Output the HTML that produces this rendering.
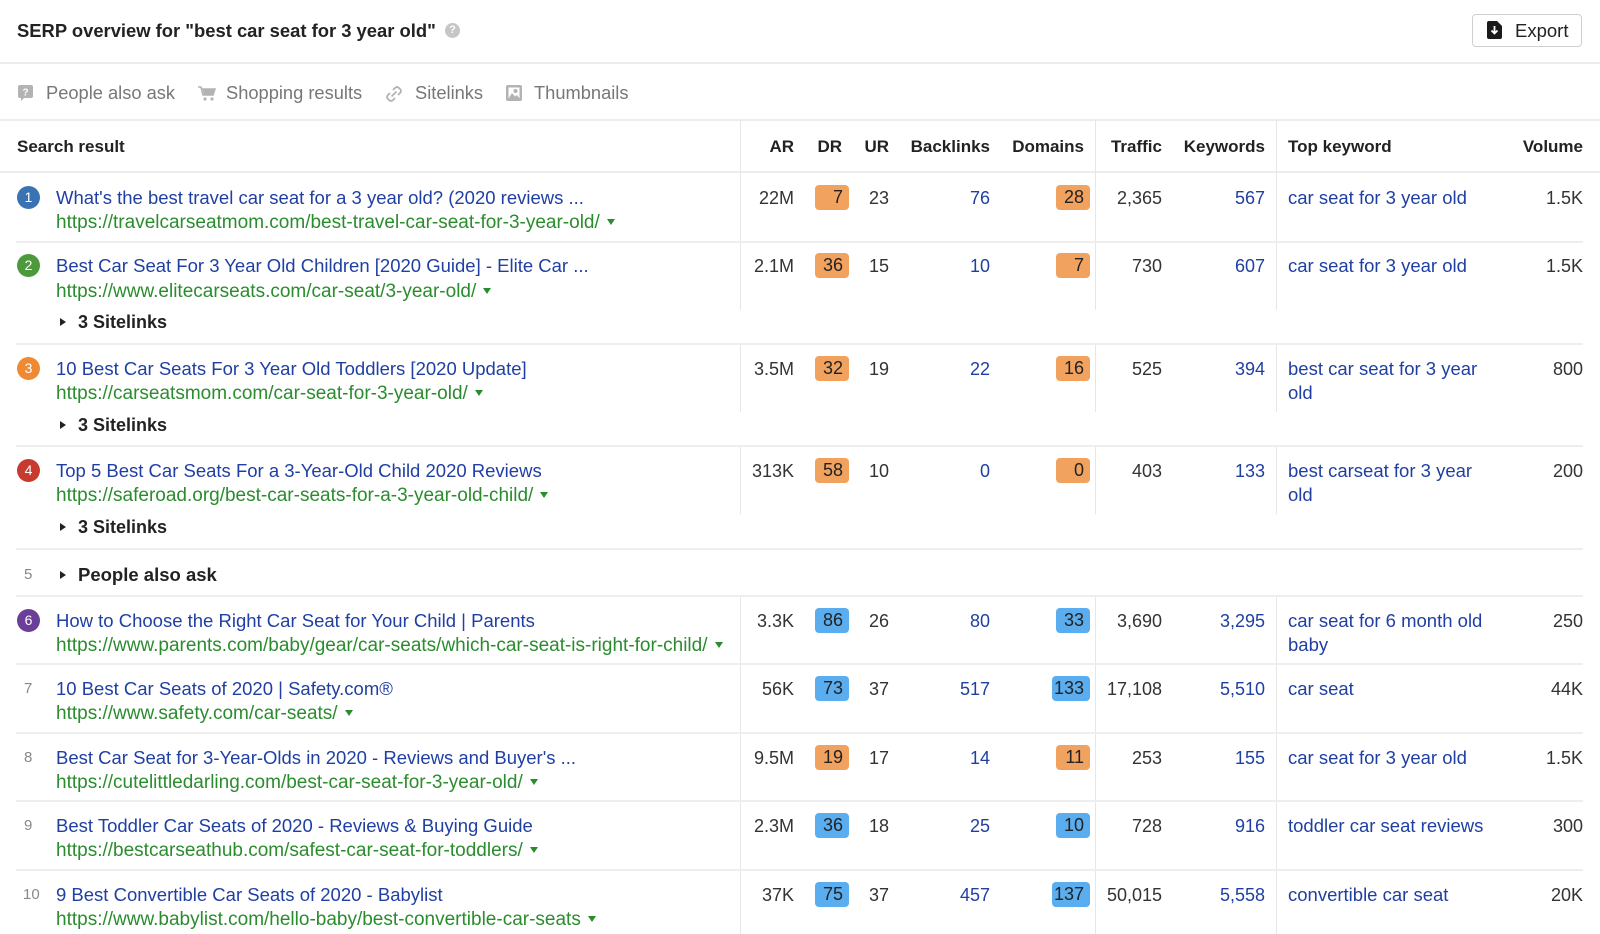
<!DOCTYPE html>
<html><head><meta charset="utf-8">
<style>
*{box-sizing:border-box;margin:0;padding:0}
body{width:1600px;height:934px;overflow:hidden;background:#fff;position:relative;font-family:"Liberation Sans",Arial,sans-serif;color:#222}
.a{position:absolute;white-space:nowrap;line-height:24px;margin-top:1px}
.hl{position:absolute;left:0;width:1600px;height:2px;background:#ececec}
.rs{position:absolute;left:16px;width:1567px;height:2px;background:#eeeeee}
.vl{position:absolute;width:1px;background:#e6e6e6}
.h{font-weight:bold;font-size:17px;color:#222}
.tt{font-size:18.5px;color:#1f3fa3;left:56px}
.url{font-size:19px;color:#2b8c2e;left:56px;margin-top:3px}
.url i{display:inline-block;width:0;height:0;border-left:4.5px solid transparent;border-right:4.5px solid transparent;border-top:6px solid #2b8c2e;vertical-align:middle;margin-left:7px;margin-top:-2px}
.n{font-size:18px;color:#333}
.lk{color:#1f3fa3}
.kw{font-size:18.5px;color:#1f3fa3;left:1288px;line-height:23.5px}
.bd{position:absolute;height:25px;min-width:34px;border-radius:4px;font-size:18px;line-height:25px;text-align:right;padding:0 6px 0 2px;color:#222;margin-top:1px}
.o{background:#f2a25f}
.b{background:#5aadee}
.c{position:absolute;width:23px;height:23px;border-radius:50%;color:#fff;font-size:14px;line-height:23px;text-align:center;left:17px;margin-top:0px}
.rn{position:absolute;font-size:15px;color:#888;line-height:20px;margin-top:1px}
.sl{font-size:18px;font-weight:bold;left:78px;color:#222}
.tri{position:absolute;left:60px;width:0;height:0;border-top:4.5px solid transparent;border-bottom:4.5px solid transparent;border-left:6px solid #222;margin-top:1px}
.f{font-size:18.3px;color:#777}
</style></head><body>

<!-- Top header -->
<div class="a" style="left:17px;top:18px;font-size:18.4px;font-weight:bold;color:#222">SERP overview for "best car seat for 3 year old"</div>
<div style="position:absolute;left:445px;top:23px;width:15px;height:15px;border-radius:50%;background:#c6c6c6;color:#fff;font-size:11px;font-weight:bold;line-height:15px;text-align:center">?</div>
<div style="position:absolute;left:1472px;top:14px;width:110px;height:33px;border:1px solid #cfcfcf;border-radius:4px;background:#fff"></div>
<svg style="position:absolute;left:1487px;top:21px" width="15" height="18" viewBox="0 0 15 18"><path d="M2 0H10L15 5V16Q15 18 13 18H2Q0 18 0 16V2Q0 0 2 0Z" fill="#1a1a1a"/><path d="M7.5 5V12M4.5 9.5L7.5 12.5L10.5 9.5" stroke="#fff" stroke-width="1.8" fill="none"/></svg>
<div class="a" style="left:1515px;top:18px;font-size:18.5px;color:#222">Export</div>
<div class="hl" style="top:62px"></div>

<!-- Filters -->
<svg style="position:absolute;left:18px;top:85px" width="15" height="16" viewBox="0 0 15 16"><path d="M2 0H13Q15 0 15 2V11Q15 13 13 13H6L3 16V13H2Q0 13 0 11V2Q0 0 2 0Z" fill="#b3b3b3"/><text x="7.5" y="10.5" font-size="10" font-weight="bold" fill="#fff" text-anchor="middle" font-family="Liberation Sans">?</text></svg>
<div class="a f" style="left:46px;top:80px">People also ask</div>
<svg style="position:absolute;left:198px;top:86px" width="18" height="15" viewBox="0 0 18 15"><path d="M0 1H3L5 9H15L17 3H4" stroke="#b3b3b3" stroke-width="1.6" fill="none"/><path d="M4.5 3H17L15 9H6Z" fill="#b3b3b3"/><circle cx="7" cy="13" r="1.6" fill="#b3b3b3"/><circle cx="14" cy="13" r="1.6" fill="#b3b3b3"/></svg>
<div class="a f" style="left:226px;top:80px">Shopping results</div>
<svg style="position:absolute;left:386px;top:86px" width="16" height="16" viewBox="0 0 16 16"><path d="M7 4L9 2Q11 0 13 2L14 3Q16 5 14 7L12 9" stroke="#b3b3b3" stroke-width="1.8" fill="none"/><path d="M9 12L7 14Q5 16 3 14L2 13Q0 11 2 9L4 7" stroke="#b3b3b3" stroke-width="1.8" fill="none"/><path d="M5.5 10.5L10.5 5.5" stroke="#b3b3b3" stroke-width="1.8"/></svg>
<div class="a f" style="left:415px;top:80px">Sitelinks</div>
<svg style="position:absolute;left:506px;top:85px" width="16" height="16" viewBox="0 0 16 16"><rect x="0" y="0" width="16" height="16" rx="2" fill="#b3b3b3"/><rect x="2.5" y="2.5" width="11" height="11" fill="#fff"/><circle cx="9.5" cy="6" r="2" fill="#b3b3b3"/><path d="M2.5 13.5L6 8L9 11.5L11 10L13.5 13.5Z" fill="#b3b3b3"/></svg>
<div class="a f" style="left:534px;top:80px">Thumbnails</div>
<div class="hl" style="top:119px"></div>

<!-- Table header -->
<div class="a h" style="left:17px;top:134px">Search result</div>
<div class="a h" style="right:806px;top:134px">AR</div>
<div class="a h" style="right:758px;top:134px">DR</div>
<div class="a h" style="right:711px;top:134px">UR</div>
<div class="a h" style="right:610px;top:134px">Backlinks</div>
<div class="a h" style="right:516px;top:134px">Domains</div>
<div class="a h" style="right:438px;top:134px">Traffic</div>
<div class="a h" style="right:335px;top:134px">Keywords</div>
<div class="a h" style="left:1288px;top:134px">Top keyword</div>
<div class="a h" style="right:17px;top:134px">Volume</div>
<div class="hl" style="top:171px"></div>

<!-- vertical dividers -->
<div class="vl" style="left:740px;top:120px;height:190px"></div>
<div class="vl" style="left:1095px;top:120px;height:190px"></div>
<div class="vl" style="left:1276px;top:120px;height:190px"></div>
<div class="vl" style="left:740px;top:344px;height:68px"></div>
<div class="vl" style="left:1095px;top:344px;height:68px"></div>
<div class="vl" style="left:1276px;top:344px;height:68px"></div>
<div class="vl" style="left:740px;top:446px;height:68px"></div>
<div class="vl" style="left:1095px;top:446px;height:68px"></div>
<div class="vl" style="left:1276px;top:446px;height:68px"></div>
<div class="vl" style="left:740px;top:596px;height:338px"></div>
<div class="vl" style="left:1095px;top:596px;height:338px"></div>
<div class="vl" style="left:1276px;top:596px;height:338px"></div>

<!-- row separators -->
<div class="rs" style="top:241px"></div>
<div class="rs" style="top:343px"></div>
<div class="rs" style="top:445px"></div>
<div class="rs" style="top:548px"></div>
<div class="rs" style="top:595px"></div>
<div class="rs" style="top:663px"></div>
<div class="rs" style="top:732px"></div>
<div class="rs" style="top:800px"></div>
<div class="rs" style="top:869px"></div>

<!-- Row 1 (center 197) -->
<div class="c" style="top:186px;background:#3a73b3">1</div>
<div class="a tt" style="top:185px">What's the best travel car seat for a 3 year old? (2020 reviews ...</div>
<div class="a url" style="top:208px">https://travelcarseatmom.com/best-travel-car-seat-for-3-year-old/<i></i></div>
<div class="a n" style="right:806px;top:185px">22M</div>
<div class="bd o" style="left:815px;top:184px">7</div>
<div class="a n" style="right:711px;top:185px">23</div>
<div class="a n lk" style="right:610px;top:185px">76</div>
<div class="bd o" style="right:510px;top:184px">28</div>
<div class="a n" style="right:438px;top:185px">2,365</div>
<div class="a n lk" style="right:335px;top:185px">567</div>
<div class="a kw" style="top:185px">car seat for 3 year old</div>
<div class="a n" style="right:17px;top:185px">1.5K</div>

<!-- Row 2 (center 265) -->
<div class="c" style="top:254px;background:#4c9a3c">2</div>
<div class="a tt" style="top:253px">Best Car Seat For 3 Year Old Children [2020 Guide] - Elite Car ...</div>
<div class="a url" style="top:277px">https://www.elitecarseats.com/car-seat/3-year-old/<i></i></div>
<div class="tri" style="top:317px"></div>
<div class="a sl" style="top:309px">3 Sitelinks</div>
<div class="a n" style="right:806px;top:253px">2.1M</div>
<div class="bd o" style="left:815px;top:252px">36</div>
<div class="a n" style="right:711px;top:253px">15</div>
<div class="a n lk" style="right:610px;top:253px">10</div>
<div class="bd o" style="right:510px;top:252px">7</div>
<div class="a n" style="right:438px;top:253px">730</div>
<div class="a n lk" style="right:335px;top:253px">607</div>
<div class="a kw" style="top:253px">car seat for 3 year old</div>
<div class="a n" style="right:17px;top:253px">1.5K</div>

<!-- Row 3 (center 368) -->
<div class="c" style="top:357px;background:#ef8a32">3</div>
<div class="a tt" style="top:356px">10 Best Car Seats For 3 Year Old Toddlers [2020 Update]</div>
<div class="a url" style="top:379px">https://carseatsmom.com/car-seat-for-3-year-old/<i></i></div>
<div class="tri" style="top:420px"></div>
<div class="a sl" style="top:412px">3 Sitelinks</div>
<div class="a n" style="right:806px;top:356px">3.5M</div>
<div class="bd o" style="left:815px;top:355px">32</div>
<div class="a n" style="right:711px;top:356px">19</div>
<div class="a n lk" style="right:610px;top:356px">22</div>
<div class="bd o" style="right:510px;top:355px">16</div>
<div class="a n" style="right:438px;top:356px">525</div>
<div class="a n lk" style="right:335px;top:356px">394</div>
<div class="a kw" style="top:356px">best car seat for 3 year<br>old</div>
<div class="a n" style="right:17px;top:356px">800</div>

<!-- Row 4 (center 470) -->
<div class="c" style="top:459px;background:#c83a2e">4</div>
<div class="a tt" style="top:458px">Top 5 Best Car Seats For a 3-Year-Old Child 2020 Reviews</div>
<div class="a url" style="top:481px">https://saferoad.org/best-car-seats-for-a-3-year-old-child/<i></i></div>
<div class="tri" style="top:522px"></div>
<div class="a sl" style="top:514px">3 Sitelinks</div>
<div class="a n" style="right:806px;top:458px">313K</div>
<div class="bd o" style="left:815px;top:457px">58</div>
<div class="a n" style="right:711px;top:458px">10</div>
<div class="a n lk" style="right:610px;top:458px">0</div>
<div class="bd o" style="right:510px;top:457px">0</div>
<div class="a n" style="right:438px;top:458px">403</div>
<div class="a n lk" style="right:335px;top:458px">133</div>
<div class="a kw" style="top:458px">best carseat for 3 year<br>old</div>
<div class="a n" style="right:17px;top:458px">200</div>

<!-- Row 5 PAA (center 574) -->
<div class="rn" style="left:24px;top:564px">5</div>
<div class="tri" style="top:570px"></div>
<div class="a" style="left:78px;top:562px;font-size:18.5px;font-weight:bold;color:#222">People also ask</div>

<!-- Row 6 (center 620) -->
<div class="c" style="top:609px;background:#6b3f98">6</div>
<div class="a tt" style="top:608px">How to Choose the Right Car Seat for Your Child | Parents</div>
<div class="a url" style="top:631px">https://www.parents.com/baby/gear/car-seats/which-car-seat-is-right-for-child/<i></i></div>
<div class="a n" style="right:806px;top:608px">3.3K</div>
<div class="bd b" style="left:815px;top:607px">86</div>
<div class="a n" style="right:711px;top:608px">26</div>
<div class="a n lk" style="right:610px;top:608px">80</div>
<div class="bd b" style="right:510px;top:607px">33</div>
<div class="a n" style="right:438px;top:608px">3,690</div>
<div class="a n lk" style="right:335px;top:608px">3,295</div>
<div class="a kw" style="top:608px">car seat for 6 month old<br>baby</div>
<div class="a n" style="right:17px;top:608px">250</div>

<!-- Row 7 (center 688) -->
<div class="rn" style="left:24px;top:678px">7</div>
<div class="a tt" style="top:676px">10 Best Car Seats of 2020 | Safety.com®</div>
<div class="a url" style="top:699px">https://www.safety.com/car-seats/<i></i></div>
<div class="a n" style="right:806px;top:676px">56K</div>
<div class="bd b" style="left:815px;top:675px">73</div>
<div class="a n" style="right:711px;top:676px">37</div>
<div class="a n lk" style="right:610px;top:676px">517</div>
<div class="bd b" style="right:510px;top:675px">133</div>
<div class="a n" style="right:438px;top:676px">17,108</div>
<div class="a n lk" style="right:335px;top:676px">5,510</div>
<div class="a kw" style="top:676px">car seat</div>
<div class="a n" style="right:17px;top:676px">44K</div>

<!-- Row 8 (center 757) -->
<div class="rn" style="left:24px;top:747px">8</div>
<div class="a tt" style="top:745px">Best Car Seat for 3-Year-Olds in 2020 - Reviews and Buyer's ...</div>
<div class="a url" style="top:768px">https://cutelittledarling.com/best-car-seat-for-3-year-old/<i></i></div>
<div class="a n" style="right:806px;top:745px">9.5M</div>
<div class="bd o" style="left:815px;top:744px">19</div>
<div class="a n" style="right:711px;top:745px">17</div>
<div class="a n lk" style="right:610px;top:745px">14</div>
<div class="bd o" style="right:510px;top:744px">11</div>
<div class="a n" style="right:438px;top:745px">253</div>
<div class="a n lk" style="right:335px;top:745px">155</div>
<div class="a kw" style="top:745px">car seat for 3 year old</div>
<div class="a n" style="right:17px;top:745px">1.5K</div>

<!-- Row 9 (center 825) -->
<div class="rn" style="left:24px;top:815px">9</div>
<div class="a tt" style="top:813px">Best Toddler Car Seats of 2020 - Reviews &amp; Buying Guide</div>
<div class="a url" style="top:836px">https://bestcarseathub.com/safest-car-seat-for-toddlers/<i></i></div>
<div class="a n" style="right:806px;top:813px">2.3M</div>
<div class="bd b" style="left:815px;top:812px">36</div>
<div class="a n" style="right:711px;top:813px">18</div>
<div class="a n lk" style="right:610px;top:813px">25</div>
<div class="bd b" style="right:510px;top:812px">10</div>
<div class="a n" style="right:438px;top:813px">728</div>
<div class="a n lk" style="right:335px;top:813px">916</div>
<div class="a kw" style="top:813px">toddler car seat reviews</div>
<div class="a n" style="right:17px;top:813px">300</div>

<!-- Row 10 (center 894) -->
<div class="rn" style="left:23px;top:884px">10</div>
<div class="a tt" style="top:882px">9 Best Convertible Car Seats of 2020 - Babylist</div>
<div class="a url" style="top:905px">https://www.babylist.com/hello-baby/best-convertible-car-seats<i></i></div>
<div class="a n" style="right:806px;top:882px">37K</div>
<div class="bd b" style="left:815px;top:881px">75</div>
<div class="a n" style="right:711px;top:882px">37</div>
<div class="a n lk" style="right:610px;top:882px">457</div>
<div class="bd b" style="right:510px;top:881px">137</div>
<div class="a n" style="right:438px;top:882px">50,015</div>
<div class="a n lk" style="right:335px;top:882px">5,558</div>
<div class="a kw" style="top:882px">convertible car seat</div>
<div class="a n" style="right:17px;top:882px">20K</div>

</body></html>
